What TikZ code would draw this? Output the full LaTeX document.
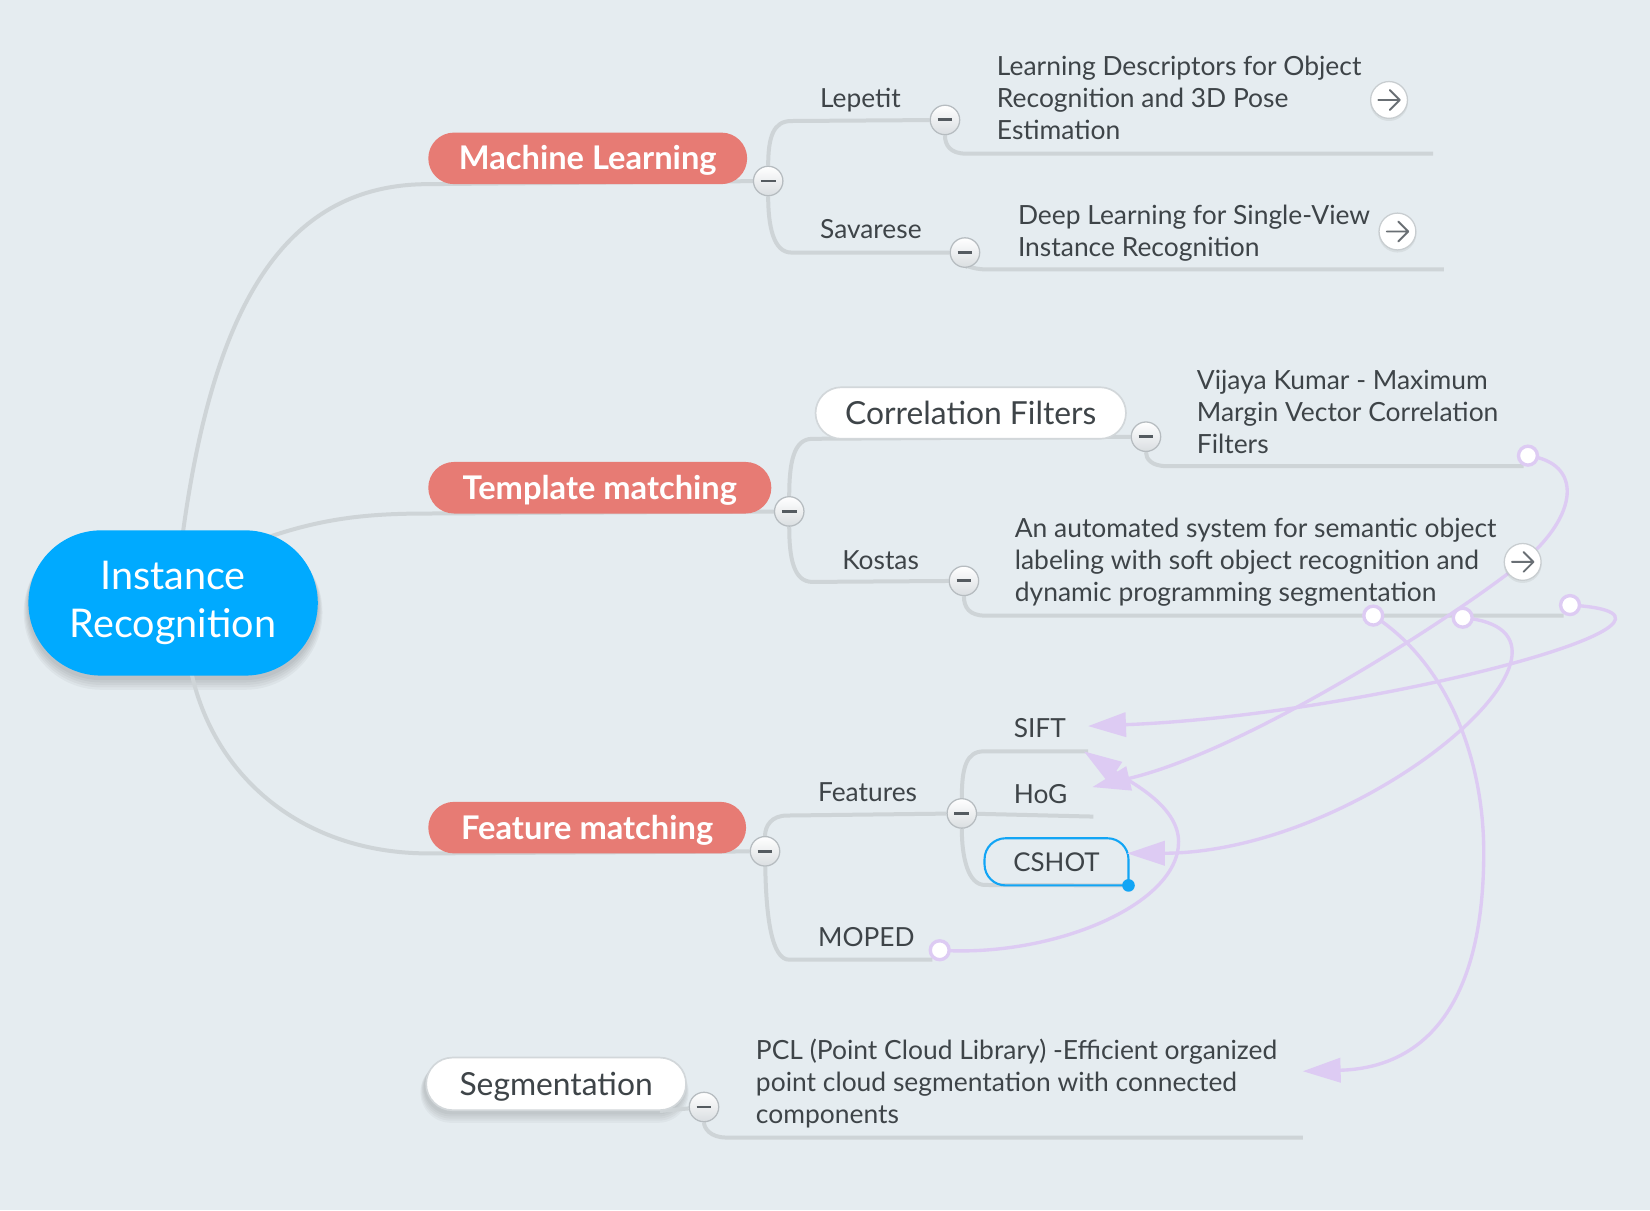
\documentclass[tikz,border=0pt]{standalone}
\usepackage{fontspec}
\setmainfont{Lato}
\usetikzlibrary{shapes.misc,arrows.meta}
\pgfdeclarelayer{back}
\pgfdeclarelayer{lines}
\pgfdeclarelayer{rel}
\pgfdeclarelayer{top}
\pgfsetlayers{back,lines,main,rel,top}

\definecolor{bgc}{RGB}{229,236,240}
\definecolor{treec}{RGB}{206,212,215}
\definecolor{txtc}{RGB}{62,68,72}
\definecolor{rootc}{RGB}{0,170,255}
\definecolor{salmonc}{RGB}{231,123,116}
\definecolor{relc}{RGB}{221,203,243}
\definecolor{colbord}{RGB}{182,188,192}
\definecolor{colbot}{RGB}{218,222,225}
\definecolor{minusc}{RGB}{85,91,96}
\definecolor{iconbord}{RGB}{200,205,208}
\definecolor{iconarrow}{RGB}{105,111,116}
\definecolor{cshotc}{RGB}{18,165,245}
\definecolor{pillbord}{RGB}{210,215,218}

\newcommand\mylines[1]{\begin{tabular}[t]{@{}l@{}}#1\end{tabular}}

\begin{document}
\begin{tikzpicture}[x=0.5pt,y=-0.5pt,
  tree/.style={draw=treec, line width=1.9pt},
  relline/.style={draw=relc, line width=1.6pt, -{Triangle[length=18pt,width=11.5pt]}},
  rootnode/.style={rounded rectangle, fill=rootc, text=white, minimum width=137.5pt, minimum height=69pt, inner sep=0pt, align=center, font={\fontsize{18.8}{23}\selectfont}},
  mainpill/.style={rounded rectangle, fill=salmonc, text=white, minimum height=24.5pt, inner sep=0pt, font={\fontsize{15.5}{18}\selectfont\bfseries}, text height=11pt, text depth=0pt},
  whitepill/.style={rounded rectangle, fill=white, draw=pillbord, line width=0.8pt, text=txtc, inner sep=0pt, font={\fontsize{15.1}{18}\selectfont}, text height=10.8pt, text depth=0pt},
  lab/.style={anchor=base west, inner sep=0pt, text=txtc, font={\fontsize{12.5}{15}\selectfont}},
  leaf/.style={anchor=base west, inner sep=0pt, text=txtc, font={\fontsize{12.55}{15.25}\selectfont}},
  collapse/.style={circle, minimum size=14pt, inner sep=0pt, draw=colbord, line width=0.6pt, top color=white, bottom color=colbot,
    path picture={\draw[minusc, line width=1.4pt] ([xshift=-3.5pt]path picture bounding box.center) -- ([xshift=3.5pt]path picture bounding box.center);}},
  relstart/.style={circle, fill=white, draw=relc, line width=1.6pt, minimum size=9pt, inner sep=0pt},
  icon/.style={circle, fill=white, draw=iconbord, line width=0.6pt, minimum size=17.5pt, inner sep=0pt,
    path picture={\draw[iconarrow, line width=0.9pt, line cap=round, line join=round]
      ([xshift=-5.1pt]path picture bounding box.center) -- ([xshift=5.1pt]path picture bounding box.center)
      ([xshift=0.4pt,yshift=4.7pt]path picture bounding box.center) -- ([xshift=5.1pt]path picture bounding box.center) -- ([xshift=0.4pt,yshift=-4.7pt]path picture bounding box.center);}},
  iconshadow/.style={circle, fill=black, opacity=0.06, minimum size=18pt, inner sep=0pt},
  shadowpill/.style={rounded rectangle, fill=black, inner sep=0pt},
]
\begin{pgfonlayer}{back}
\fill[bgc] (0,0) rectangle (1568,1150);
\end{pgfonlayer}
\useasboundingbox (0,0) rectangle (1568,1150);

% ---------- main nodes ----------
\node[rootnode] (root) at (164.5,573) {Instance\\Recognition};
\node[mainpill, minimum width=151.5pt] (ml) at (558.5,150.5) {Machine Learning};
\node[mainpill, minimum width=163pt] (tm) at (570,463.5) {Template matching};
\node[mainpill, minimum width=151pt] (fm) at (558,786.5) {Feature matching};
\node[whitepill, minimum width=123.5pt, minimum height=25pt] (seg) at (528.5,1030) {Segmentation};
\node[whitepill, minimum width=147.5pt, minimum height=24.5pt] (cf) at (922.5,392.5) {Correlation Filters};

% ---------- shadows ----------
\begin{pgfonlayer}{back}
\foreach \i in {1,...,5}{
  \node[shadowpill, opacity=0.035, minimum width={137.5pt+\i*0.9pt}, minimum height={69pt+\i*0.9pt}] (rsh\i) at (164.5,575+\i*1.4) {};
  \node[shadowpill, opacity=0.03, minimum width={123.5pt+\i*0.8pt}, minimum height={25pt+\i*0.8pt}] (ssh\i) at (527,1032+\i*1.2) {};
}
\end{pgfonlayer}

% ---------- labels and leaves ----------
\node[lab] (lep) at (779,102) {Lepetit};
\node[lab] (sav) at (779,227) {Savarese};
\node[lab] (kos) at (800,541) {Kostas};
\node[lab] (feat) at (777,762) {Features};
\node[lab] (sift) at (963,701) {SIFT};
\node[lab] (hog) at (963,764) {HoG};
\node[lab] (moped) at (777,899) {MOPED};

\node[leaf] (lepc) at (947,72) {\mylines{Learning Descriptors for Object\\Recognition and 3D Pose\\Estimation}};
\node[leaf] (savc) at (967,213) {\mylines{Deep Learning for Single-View\\Instance Recognition}};
\node[leaf] (vij) at (1137,370) {\mylines{Vijaya Kumar - Maximum\\Margin Vector Correlation\\Filters}};
\node[leaf] (kosc) at (964,511) {\mylines{An automated system for semantic object\\labeling with soft object recognition and\\dynamic programming segmentation}};
\node[leaf] (pcl) at (718,1007) {\mylines{PCL (Point Cloud Library) -Efficient organized\\point cloud segmentation with connected\\components}};

\node[inner sep=0pt, minimum width=68pt, minimum height=22pt, text=txtc, font={\fontsize{12.3}{15}\selectfont}, text height=8.8pt, text depth=0pt] (cshot) at (1004,819) {CSHOT};
\draw[cshotc, line width=1pt] (cshot.south east) [rounded corners=10pt] -- (cshot.north east) -- (cshot.north west) -- (cshot.south west) [sharp corners] -- cycle;
\fill[cshotc] (cshot.south east) circle[radius=3pt];

% ---------- collapse circles, icons, relationship starts ----------
\begin{pgfonlayer}{top}
\node[collapse] (cml) at (730,172) {};
\node[collapse] (clep) at (898,114) {};
\node[collapse] (csav) at (917,240) {};
\node[collapse] (ctm) at (750,486) {};
\node[collapse] (ccf) at (1089,415) {};
\node[collapse] (ckos) at (916,552) {};
\node[collapse] (cfm) at (727,809) {};
\node[collapse] (cfeat) at (914,773) {};
\node[collapse] (cseg) at (669,1052) {};
\node[iconshadow] (ilepsh) at (1320,97) {};
\node[iconshadow] (isavsh) at (1328,222) {};
\node[iconshadow] (ikossh) at (1447,536) {};
\node[icon] (ilep) at (1320,95) {};
\node[icon] (isav) at (1328,220) {};
\node[icon] (ikos) at (1447,534) {};
\node[relstart] (r1) at (1452,433) {};
\node[relstart] (r2) at (1492,575) {};
\node[relstart] (r3) at (1390,587) {};
\node[relstart] (r4) at (1305,585) {};
\node[relstart] (r5) at (893,903) {};
\end{pgfonlayer}

% ---------- tree lines ----------
\begin{pgfonlayer}{lines}
\coordinate (mlA) at (172,520);
\coordinate (mlin) at (407,175);
\coordinate (tmA) at (245,514);
\coordinate (tmin) at (407,488);
\coordinate (fmA) at (180,630);
\coordinate (fmin) at (407,811);
\draw[tree] (mlA) .. controls (200,300) and (265,175) .. (mlin) -- (cml);
\draw[tree] (tmA) .. controls (305,492) and (350,488) .. (tmin) -- (ctm);
\draw[tree] (fmA) .. controls (200,740) and (290,811) .. (fmin) -- (cfm);
\draw[tree] (seg.south east) -- (cseg);

% ML subtree
\coordinate (lepin) at (752,115);
\coordinate (savin) at (752,240);
\draw[tree] (cml) .. controls (730,130) and (735,115) .. (lepin) -- (clep);
\draw[tree] (cml) .. controls (730,215) and (735,240) .. (savin) -- (csav);
\coordinate (lepu) at (918,146);
\coordinate (lepend) at (1362,146);
\draw[tree] (clep) .. controls (898,138) and (903,146) .. (lepu) -- (lepend);
\coordinate (savu) at (937,256);
\coordinate (savend) at (1372,256);
\draw[tree] (csav) .. controls (917,250) and (922,256) .. (savu) -- (savend);

% TM subtree
\coordinate (cfin) at (772,417);
\coordinate (kosin) at (772,553);
\draw[tree] (ctm) .. controls (750,440) and (754,417) .. (cfin) -- (ccf);
\draw[tree] (ctm) .. controls (750,530) and (754,553) .. (kosin) -- (ckos);
\coordinate (vu) at (1109,443);
\coordinate (vend) at (1448,443);
\draw[tree] (ccf) .. controls (1089,436) and (1094,443) .. (vu) -- (vend);
\coordinate (ku) at (936,585);
\coordinate (kend) at (1486,585);
\draw[tree] (ckos) .. controls (916,577) and (921,585) .. (ku) -- (kend);

% FM subtree
\coordinate (featin) at (748,775);
\coordinate (mopin) at (750,912);
\coordinate (mopend) at (886,912);
\draw[tree] (cfm) .. controls (727,785) and (733,775) .. (featin) -- (cfeat);
\draw[tree] (cfm) .. controls (728,870) and (733,912) .. (mopin) -- (mopend);
\coordinate (siftin) at (935,714);
\coordinate (siftend) at (1034,714);
\coordinate (hogend) at (1039,776);
\coordinate (cshin) at (936,841);
\draw[tree] (cfeat) .. controls (914,730) and (918,714) .. (siftin) -- (siftend);
\draw[tree] (cfeat) -- (hogend);
\draw[tree] (cfeat) .. controls (914,815) and (920,841) .. (cshin) -- (cshot.south east);

% Segmentation subtree
\coordinate (pclu) at (690,1081);
\coordinate (pclend) at (1238,1081);
\draw[tree] (cseg) .. controls (669,1072) and (675,1081) .. (pclu) -- (pclend);
\end{pgfonlayer}

% ---------- relationships ----------
\begin{pgfonlayer}{rel}
\coordinate (e1) at (1038,748);
\coordinate (e2) at (1034,690);
\coordinate (e3) at (1071,811);
\coordinate (e4) at (1238,1018);
\coordinate (e5) at (1030,714);
\coordinate (m1) at (1447,534);
\coordinate (m4) at (1410,810);
\coordinate (m5) at (1120,800);
\draw[relline] (r1.center) .. controls (1505,440) and (1500,490) .. (m1) .. controls (1394,578) and (1190,712) .. (e1);
\draw[relline] (r2.center) .. controls (1660,585) and (1300,680) .. (e2);
\draw[relline] (r3.center) .. controls (1540,600) and (1300,810) .. (e3);
\draw[relline] (r4.center) .. controls (1375,630) and (1410,720) .. (m4) .. controls (1410,960) and (1350,1015) .. (e4);
\draw[relline] (r5.center) .. controls (1000,910) and (1120,860) .. (m5) .. controls (1120,765) and (1072,742) .. (e5);
\end{pgfonlayer}
\end{tikzpicture}
\end{document}
